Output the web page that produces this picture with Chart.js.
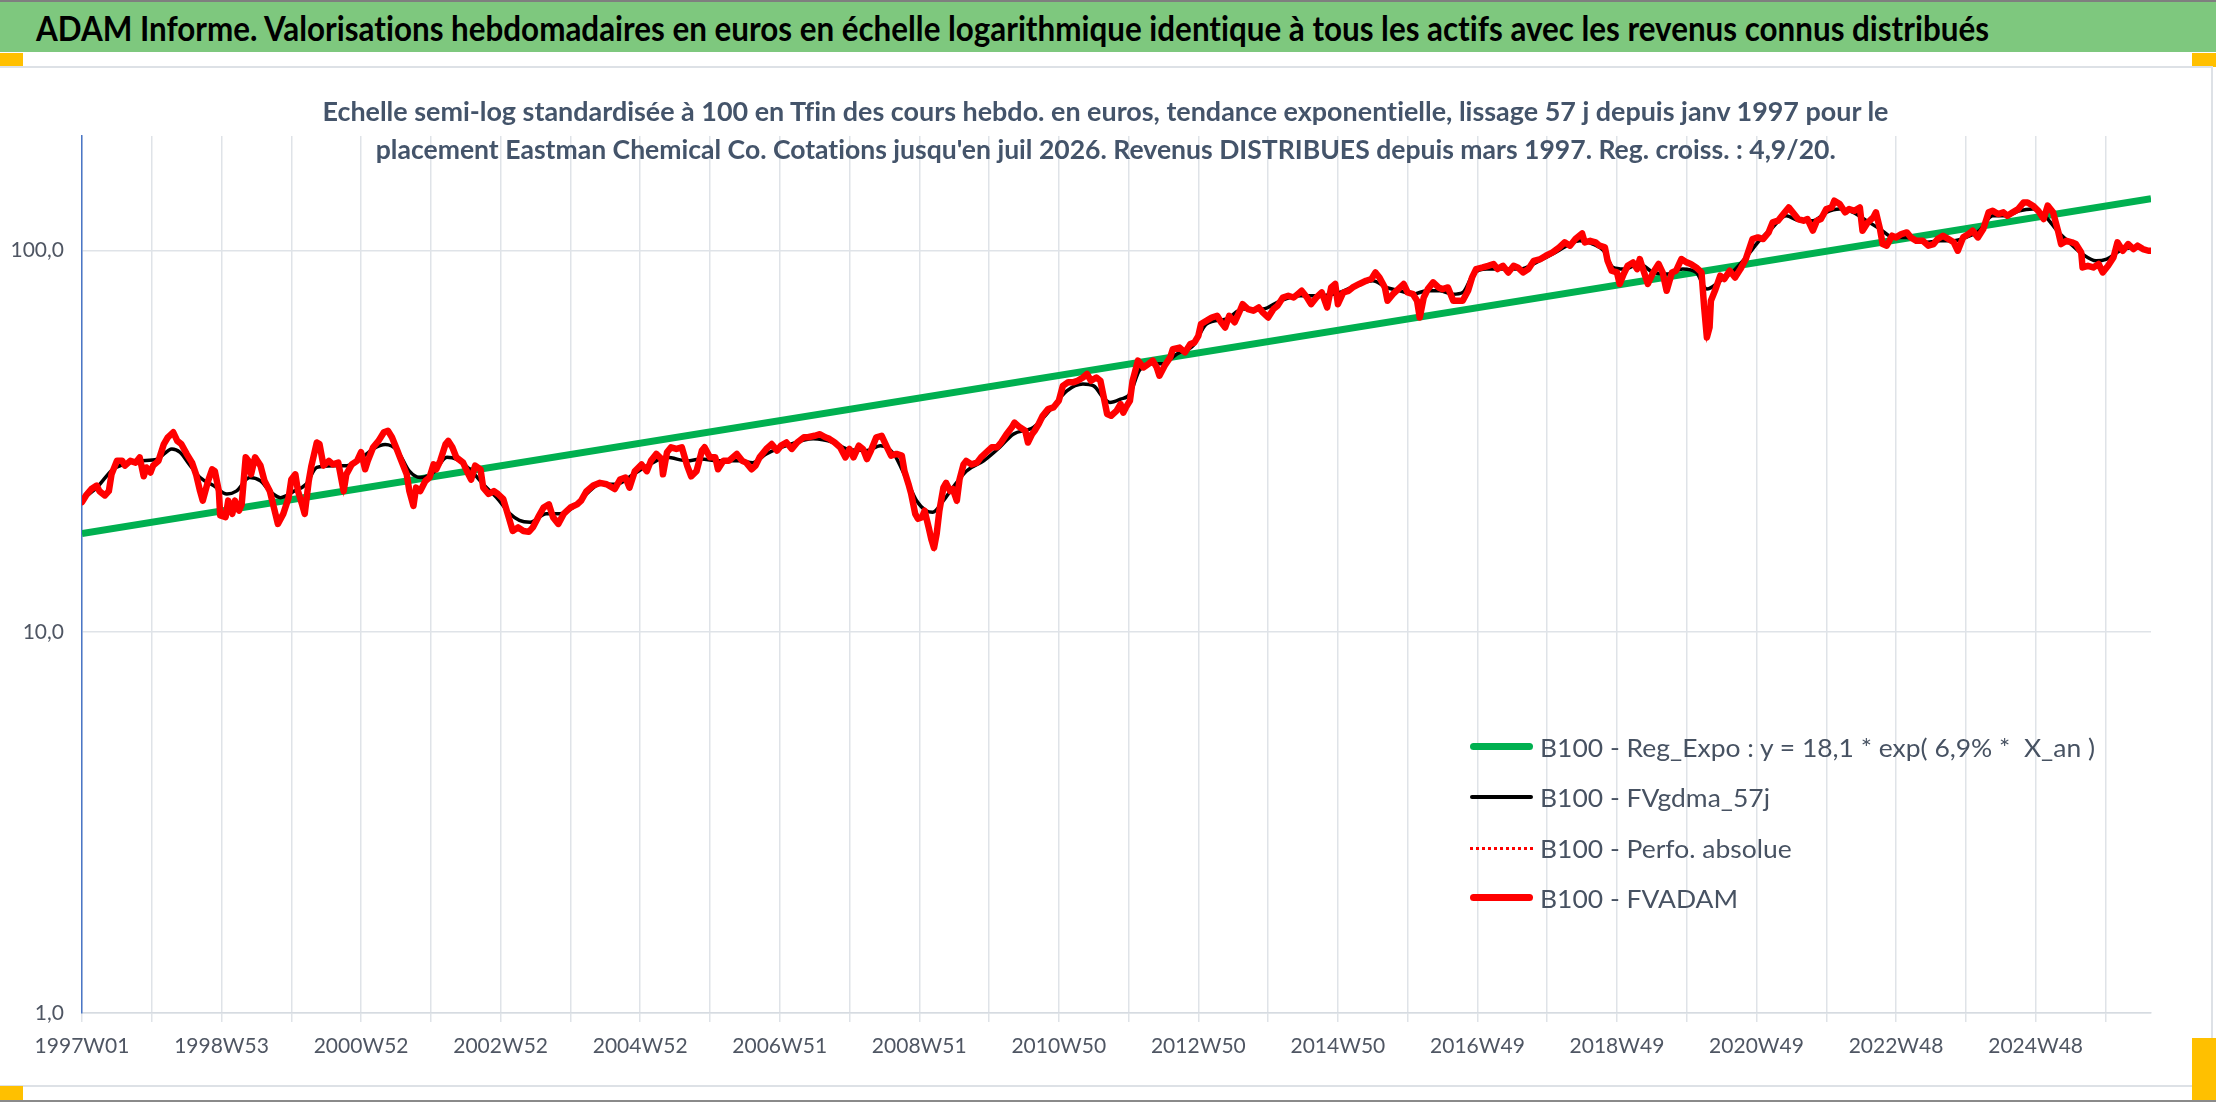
<!DOCTYPE html>
<html lang="fr">
<head>
<meta charset="utf-8">
<title>ADAM Informe - Eastman Chemical Co.</title>
<script src="https://cdn.jsdelivr.net/npm/chart.js@4.4.1/dist/chart.umd.min.js"></script>
<style>
html, body { margin: 0; padding: 0; background: #fff; }
#page { position: relative; width: 2216px; height: 1102px; overflow: hidden; font-family: Lato, 'Open Sans', sans-serif; font-variant-ligatures: none; }
#banner { position: absolute; left: 0; top: 0; width: 2216px; height: 52px; background: #7ec87e; border-top: 2px solid #7f7f7f; box-sizing: border-box; }
#title { position: absolute; left: 36px; top: 1px; line-height: 50px; font-size: 34px; font-weight: 700; color: #000; white-space: nowrap; transform-origin: left center; }
.orange { position: absolute; background: #ffc000; }
#frame { position: absolute; left: 0; top: 66px; width: 2213px; height: 1021px; box-sizing: border-box; border: 2px solid #dde1e6; border-left: none; }
#bottomline { position: absolute; left: 0; top: 1100px; width: 2216px; height: 2px; background: #8a8a8a; }
#chart { position: absolute; left: 0; top: 0; }
#subtitle { position: absolute; left: 0; top: 92px; width: 2211px; text-align: center; font-size: 26px; font-weight: 700; line-height: 38px; color: #44546a; }
#subtitle span { display: inline-block; white-space: pre; transform-origin: center center; }
.legrow { position: absolute; left: 1470px; height: 38px; }
.legline { position: absolute; left: 0; width: 63px; }
.legtxt { position: absolute; left: 70px; top: 0; line-height: 38px; font-size: 25px; color: #475262; white-space: pre; transform-origin: left center; }
</style>
</head>
<body>
<div id="page">
  <div id="banner"><span id="title">ADAM Informe. Valorisations hebdomadaires en euros en échelle logarithmique identique à tous les actifs avec les revenus connus distribués</span></div>
  <div class="orange" style="left:0;top:53px;width:23px;height:14px"></div>
  <div class="orange" style="left:2192px;top:53px;width:24px;height:14px"></div>
  <div id="frame"></div>
  <div class="orange" style="left:0;top:1086px;width:23px;height:14px"></div>
  <div class="orange" style="left:2192px;top:1038px;width:24px;height:62px"></div>
  <div id="bottomline"></div>
  <canvas id="chart" width="2216" height="1102"></canvas>
  <div id="subtitle">
    <span id="sub1">Echelle semi-log standardisée à 100 en Tfin des cours hebdo. en euros, tendance exponentielle, lissage 57 j depuis janv 1997 pour le</span><br>
    <span id="sub2">placement Eastman Chemical Co. Cotations jusqu'en juil 2026. Revenus DISTRIBUES depuis mars 1997. Reg. croiss. : 4,9/20.</span>
  </div>
  <div class="legrow" style="top:728px">
    <div class="legline" style="top:15px;height:7px;border-radius:4px;background:#00b050"></div>
    <span class="legtxt" id="leg1">B100 - Reg_Expo : y = 18,1 * exp( 6,9% *  X_an )</span>
  </div>
  <div class="legrow" style="top:778px">
    <div class="legline" style="top:17px;height:4px;border-radius:2px;background:#000"></div>
    <span class="legtxt">B100 - FVgdma_57j</span>
  </div>
  <div class="legrow" style="top:829px">
    <div class="legline" style="top:18px;height:0;border-top:3px dotted #ff0000"></div>
    <span class="legtxt">B100 - Perfo. absolue</span>
  </div>
  <div class="legrow" style="top:879px">
    <div class="legline" style="top:15px;height:7px;border-radius:4px;background:#ff0000"></div>
    <span class="legtxt">B100 - FVADAM</span>
  </div>
</div>
<script>
// Semaines depuis 1997W01 (index de la série hebdo) et valeurs base 100
var xLabels = ['1997W01', '1998W53', '2000W52', '2002W52', '2004W52', '2006W51', '2008W51', '2010W50',
    '2012W50', '2014W50', '2016W49', '2018W49', '2020W49', '2022W48', '2024W48'];
var lastWeek = 1542;
var yTickValues = [1, 10, 100];
var yTickLabels = ['1,0', '10,0', '100,0'];

// FVADAM (courbe rouge)
var fvadamWeeks = [
    0, 3, 7, 11, 13, 17, 20, 22, 26, 30, 32, 36, 40, 43, 46, 48, 51, 53, 57, 61,
    64, 68, 71, 74, 78, 82, 85, 88, 90, 94, 97, 99, 102, 103, 107, 109, 112, 114, 117, 119,
    122, 124, 126, 129, 133, 136, 140, 143, 146, 150, 154, 156, 159, 161, 164, 166, 169, 171, 175, 177,
    180, 184, 187, 191, 195, 197, 201, 205, 208, 211, 213, 217, 221, 225, 228, 231, 235, 238, 242, 244,
    247, 249, 252, 256, 259, 262, 264, 267, 271, 273, 276, 279, 284, 288, 290, 293, 297, 299, 303, 307,
    310, 314, 318, 321, 325, 329, 333, 336, 340, 344, 348, 351, 355, 359, 364, 369, 372, 376, 381,
    386, 391, 397, 401, 405, 408, 412, 417, 421, 424, 428, 432, 433, 436, 439, 443, 447, 451, 454, 458,
    462, 464, 468, 472, 474, 478, 482, 485, 488, 492, 495, 499, 502, 505, 510, 514, 518, 521, 525, 529,
    533, 538, 541, 546, 550, 554, 557, 561, 565, 569, 572, 575, 579, 582, 585, 588, 592, 596, 600, 603,
    607, 611, 613, 616, 618, 621, 623, 626, 628, 631, 633, 635, 637, 639, 642, 644, 647, 649, 652, 654,
    657, 659, 663, 667, 670, 674, 678, 682, 685, 689, 693, 695, 699, 703, 705, 708, 710, 713, 716, 720,
    724, 728, 731, 735, 739, 742, 746, 749, 752, 756, 759, 761, 764, 767, 771,
    774, 776, 778, 781, 783, 787, 791, 795, 798, 801, 803, 807, 811, 813, 818, 822, 826, 829, 832, 834,
    838, 842, 846, 849, 852, 855, 859, 863, 865, 869, 873, 877, 880, 884, 888, 891, 895, 899, 903, 906,
    909, 913, 916, 920, 924, 928, 931, 934, 936, 940, 944, 947, 952, 957, 961, 964, 967, 971, 973, 977,
    981, 985, 988, 992, 995, 997, 1000, 1003, 1007, 1011, 1014, 1018, 1022, 1026, 1029, 1033, 1036, 1039, 1044, 1048,
    1052, 1055, 1059, 1063, 1067, 1070, 1074, 1078, 1082, 1087, 1091, 1096, 1101, 1105, 1109, 1113, 1118, 1120, 1124, 1128,
    1131, 1135, 1137, 1140, 1144, 1146, 1149, 1152, 1156, 1159,
    1161, 1163, 1167, 1171, 1175, 1178, 1181, 1185, 1188, 1192, 1196, 1199, 1203, 1207, 1209, 1211, 1213, 1214, 1217, 1221,
    1224, 1228, 1232, 1236, 1240, 1245, 1249, 1253, 1257, 1260, 1264, 1268, 1272, 1275, 1279, 1283, 1286, 1290, 1293, 1296,
    1300, 1304, 1306, 1310, 1314, 1317, 1321, 1325, 1327, 1331, 1335, 1337, 1340, 1342, 1345, 1349, 1352, 1356, 1360, 1363,
    1367, 1372, 1376, 1380, 1383, 1387, 1391, 1395, 1398, 1402, 1406, 1409, 1413, 1417, 1421, 1424, 1428, 1432, 1435, 1439,
    1443, 1447, 1450, 1454, 1458, 1462, 1465, 1469, 1473, 1475, 1479, 1483, 1486, 1490, 1491, 1495, 1499, 1503, 1506, 1510,
    1514, 1517, 1521, 1525, 1529, 1532, 1536, 1540, 1542
];
var fvadamValues = [
    21.9, 22.8, 23.7, 24.2, 23.4, 22.8, 23.4, 25.9, 28.1, 28.1, 27.3, 28.1, 27.8, 28.7, 25.6, 27.0, 26.2, 27.3, 28.1, 31.1,
    32.4, 33.4, 31.7, 31.1, 29.3, 27.8, 25.9, 23.4, 22.1, 24.9, 26.7, 26.4, 23.4, 20.2, 20.0, 22.1, 20.4, 22.1, 20.8, 21.6,
    28.7, 28.1, 25.9, 28.7, 27.3, 24.9, 23.4, 21.2, 19.2, 20.4, 22.5, 25.1, 25.9, 23.4, 21.6, 20.4, 24.9, 27.3, 31.4, 31.1,
    27.3, 28.1, 27.5, 27.8, 23.4, 25.9, 27.5, 28.1, 29.6, 26.7, 28.1, 30.5, 31.7, 33.4, 33.7, 32.4, 29.9, 28.1, 25.9, 23.4,
    21.4, 23.9, 23.4, 24.9, 25.4, 27.5, 26.7, 28.1, 31.1, 31.7, 30.5, 28.7, 27.8, 25.9, 25.1, 27.3, 26.7, 23.9, 23.0, 23.4,
    23.0, 22.3, 20.0, 18.4, 18.8, 18.4, 18.3, 18.8, 20.0, 21.2, 21.6, 20.0, 19.2, 20.4, 21.2, 21.6, 22.1, 23.4, 24.2,
    24.6, 24.4, 23.7, 25.1, 25.4, 23.9, 26.4, 27.5, 26.4, 28.1, 29.3, 28.4, 25.9, 29.6, 30.5, 30.2, 30.5, 27.3, 25.6, 26.4,
    29.9, 30.5, 28.7, 28.7, 26.7, 28.1, 28.1, 28.7, 29.3, 28.1, 27.8, 26.7, 27.3, 28.7, 30.2, 31.1, 29.9, 30.8, 31.4, 30.2,
    31.4, 32.4, 32.4, 32.7, 33.0, 32.4, 32.1, 31.4, 30.5, 28.7, 30.2, 28.7, 30.8, 30.2, 28.4, 29.9, 32.4, 32.7, 30.5, 29.0,
    29.3, 29.0, 26.4, 24.4, 23.0, 20.4, 19.8, 20.0, 20.8, 18.8, 17.5, 16.6, 18.1, 20.8, 23.9, 24.6, 23.4, 23.7, 22.1, 25.1,
    27.5, 28.1, 27.5, 27.8, 28.7, 29.6, 30.5, 30.5, 31.4, 33.0, 34.4, 35.4, 34.4, 33.7, 31.4, 33.0, 33.7, 35.1, 36.9, 38.4,
    38.8, 40.4, 44.2, 45.2, 45.2, 45.6, 46.5, 47.5, 45.6, 46.5, 45.6, 42.1, 37.3, 36.9, 38.0,
    39.6, 37.6, 38.8, 40.4, 45.6, 51.5, 49.4, 50.5, 51.5, 49.4, 47.0, 50.0, 52.5, 55.2, 55.7, 54.1, 56.9, 57.4, 59.8, 64.2,
    65.5, 66.8, 67.5, 64.9, 62.9, 67.5, 64.9, 69.6, 72.4, 70.3, 69.6, 71.0, 68.9, 66.8, 70.3, 71.7, 75.4, 76.2, 75.4, 76.9,
    78.5, 75.4, 72.4, 75.4, 77.7, 71.0, 80.1, 81.8, 72.4, 77.7, 78.5, 80.1, 81.8, 83.4, 84.3, 87.7, 85.1, 80.1, 73.9, 76.9,
    79.3, 81.8, 77.7, 76.9, 73.9, 66.8, 75.4, 79.3, 82.6, 80.1, 79.3, 80.1, 73.9, 73.9, 73.9, 78.5, 85.1, 89.5, 90.4, 91.3,
    92.3, 89.5, 91.3, 87.7, 91.3, 90.4, 87.7, 89.5, 94.1, 95.1, 97.0, 99.0, 102.0, 105.2, 103.1, 107.3, 111.0, 105.2, 106.2, 105.2,
    103.1, 102.0, 94.1, 88.6, 87.7, 81.8, 86.9, 91.3, 93.2, 89.5,
    95.1, 90.4, 81.8, 87.7, 92.3, 87.7, 78.5, 87.7, 88.6, 95.1, 93.2, 92.3, 90.4, 87.7, 71.0, 59.2, 62.9, 73.9, 78.5, 86.0,
    84.3, 88.6, 85.1, 89.5, 95.1, 107.3, 108.4, 107.3, 111.7, 118.7, 119.9, 124.8, 129.9, 126.1, 121.1, 119.9, 121.1, 112.9, 119.9, 121.1,
    128.6, 129.9, 135.3, 132.6, 126.1, 128.6, 127.3, 129.9, 112.9, 118.7, 122.3, 126.1, 114.0, 104.1, 103.1, 109.5, 108.4, 110.6, 111.7, 108.4,
    106.2, 106.2, 103.1, 104.1, 107.3, 109.5, 107.3, 105.2, 100.0, 108.4, 110.6, 112.9, 108.4, 114.0, 126.1, 127.3, 124.8, 126.1, 123.5, 126.1,
    128.6, 133.9, 133.9, 131.3, 127.3, 121.1, 131.3, 126.1, 111.7, 104.1, 106.2, 105.2, 104.1, 99.0, 90.4, 91.3, 90.4, 92.3, 87.7, 91.3,
    96.0, 105.2, 100.0, 104.1, 101.0, 103.1, 101.0, 100.0, 100.0
];

// FVgdma_57j (moyenne lissée, courbe noire)
var gdmaWeeks = [
    0, 11, 23, 31, 43, 56, 67, 73, 80, 88, 98, 108, 115, 125, 133, 140, 148, 158, 167, 175,
    187, 197, 207, 217, 226, 235, 244, 252, 262, 272, 279, 289, 299, 309, 319, 326, 334, 346, 356, 366, 376,
    386, 398, 411, 423, 436, 451, 461, 475, 490, 500, 510, 525, 545, 560, 570, 585, 595, 605, 615, 622,
    629, 634, 642, 649, 659, 672, 684, 694, 709, 721, 734, 746, 754, 761, 766,
    774, 781, 788, 798, 806, 816, 828, 838, 853, 865, 880, 893, 908, 923, 937, 952, 962, 972, 982, 992,
    1002, 1012, 1022, 1029, 1037, 1047, 1059, 1072, 1084, 1096, 1109, 1116, 1126, 1134, 1141, 1149,
    1161, 1171, 1181, 1193, 1203, 1211, 1221, 1231, 1240, 1250, 1260, 1270, 1280, 1290, 1300, 1310, 1320, 1330, 1340, 1350,
    1360, 1375, 1385, 1395, 1404, 1414, 1424, 1434, 1444, 1454, 1464, 1472, 1481, 1491, 1501, 1509, 1519, 1529, 1542
];
var gdmaValues = [
    22.3, 23.9, 26.7, 27.5, 28.1, 28.4, 30.2, 29.6, 27.5, 25.4, 24.2, 23.0, 23.4, 25.4, 24.9, 23.4, 22.5, 23.4, 24.4, 27.0,
    27.3, 27.3, 28.4, 30.2, 31.0, 29.9, 26.4, 25.4, 26.2, 28.7, 28.4, 26.7, 24.4, 22.5, 20.4, 19.6, 19.4, 20.4, 20.4, 21.2, 23.0,
    24.4, 24.4, 25.9, 27.5, 28.7, 28.1, 28.4, 28.1, 28.1, 27.8, 29.3, 30.8, 32.1, 31.4, 30.2, 29.9, 30.8, 29.3, 24.9, 22.1,
    20.8, 20.6, 22.1, 23.9, 26.4, 28.1, 30.5, 33.0, 34.4, 38.0, 42.9, 44.7, 44.2, 41.2, 40.0,
    40.8, 42.1, 48.5, 50.5, 50.5, 53.6, 56.3, 64.2, 66.2, 70.3, 70.3, 73.9, 76.2, 76.2, 77.7, 81.8, 83.4, 80.1, 78.5, 76.9,
    78.5, 78.5, 76.9, 77.7, 86.9, 89.5, 89.5, 89.5, 93.2, 98.0, 104.1, 106.2, 104.1, 100.0, 90.4, 89.5,
    92.3, 87.7, 86.9, 89.5, 87.7, 79.3, 83.4, 88.6, 96.0, 106.2, 115.1, 123.5, 119.9, 119.9, 126.1, 128.6, 126.1, 119.9, 114.0, 108.4,
    108.4, 105.2, 106.2, 106.2, 108.4, 112.9, 123.5, 123.5, 127.3, 128.6, 122.3, 112.9, 105.2, 98.0, 94.1, 95.1, 100.0, 102.0, 100.0
];

// Reg_Expo : droite en semi-log, lue aux deux extrémités
var regWeeks = [0, 1542];
var regValues = [18.1, 137];

if (fvadamWeeks.length !== fvadamValues.length) throw new Error('fvadam ' + fvadamWeeks.length + ' / ' + fvadamValues.length);
if (gdmaWeeks.length !== gdmaValues.length) throw new Error('gdma ' + gdmaWeeks.length + ' / ' + gdmaValues.length);

function toPoints(weeks, values) {
    return weeks.map(function (w, i) { return { x: w, y: values[i] }; });
}

// Ajuste la largeur des textes (polices Calibri absentes)
function fitWidth(id, target) {
    var el = document.getElementById(id);
    var w = el.getBoundingClientRect().width;
    el.style.transform = 'scaleX(' + (target / w) + ')';
    return target / w;
}
function fitTexts() {
    fitWidth('title', 1953);
    fitWidth('sub1', 1566);
    fitWidth('sub2', 1460);
    var k = fitWidth('leg1', 555);
    document.querySelectorAll('.legtxt').forEach(function (el) { el.style.transform = 'scaleX(' + k + ')'; });
}
fitTexts();

Chart.defaults.font.family = "Lato, 'Open Sans', sans-serif";
var gridColor = '#dfe3e8';
var tickColor = '#4f5663';

var ctx = document.getElementById('chart').getContext('2d');
var chart = new Chart(ctx, {
    type: 'line',
    data: {
        datasets: [{
            label: 'B100 - FVADAM',
            data: toPoints(fvadamWeeks, fvadamValues),
            borderColor: '#ff0000',
            borderWidth: 6.5,
            borderJoinStyle: 'round',
            borderCapStyle: 'round',
            pointRadius: 0,
            tension: 0,
            order: 1
        }, {
            label: 'B100 - Perfo. absolue',
            data: toPoints(fvadamWeeks, fvadamValues),
            borderColor: '#ff0000',
            borderWidth: 2,
            borderDash: [2, 3],
            pointRadius: 0,
            tension: 0,
            order: 2
        }, {
            label: 'B100 - FVgdma_57j',
            data: toPoints(gdmaWeeks, gdmaValues),
            borderColor: '#000000',
            borderWidth: 3.5,
            pointRadius: 0,
            cubicInterpolationMode: 'monotone',
            order: 3
        }, {
            label: 'B100 - Reg_Expo',
            data: toPoints(regWeeks, regValues),
            borderColor: '#00b050',
            borderWidth: 7,
            pointRadius: 0,
            tension: 0,
            order: 4
        }]
    },
    options: {
        responsive: false,
        animation: false,
        devicePixelRatio: 1,
        layout: { padding: { left: 0, top: 136, right: 65, bottom: 29 } },
        plugins: {
            legend: { display: false },
            title: { display: false },
            tooltip: { enabled: false }
        },
        scales: {
            x: {
                type: 'linear',
                min: 0,
                max: lastWeek,
                afterBuildTicks: function (scale) {
                    var t = [];
                    for (var v = 0; v <= lastWeek; v += 52) t.push({ value: v });
                    scale.ticks = t;
                },
                afterFit: function (scale) { scale.height = 60; },
                ticks: {
                    autoSkip: false,
                    maxRotation: 0,
                    minRotation: 0,
                    padding: 12,
                    color: tickColor,
                    font: { size: 21 },
                    callback: function (value) {
                        return value % 104 === 0 ? (xLabels[value / 104] || '') : '';
                    }
                },
                grid: { color: gridColor, lineWidth: 1.5, tickLength: 9 },
                border: { color: '#d6dbe1', width: 1.5 }
            },
            y: {
                type: 'logarithmic',
                min: 1,
                max: 200,
                afterBuildTicks: function (scale) {
                    scale.ticks = yTickValues.map(function (v) { return { value: v }; });
                },
                afterFit: function (scale) { scale.width = 82; },
                ticks: {
                    padding: 18,
                    color: tickColor,
                    font: { size: 21 },
                    callback: function (value) {
                        var i = yTickValues.indexOf(value);
                        return i >= 0 ? yTickLabels[i] : '';
                    }
                },
                grid: { color: gridColor, lineWidth: 1.5, drawTicks: false },
                border: { color: '#4a76c6', width: 1.5 }
            }
        }
    }
});
</script>
</body>
</html>
